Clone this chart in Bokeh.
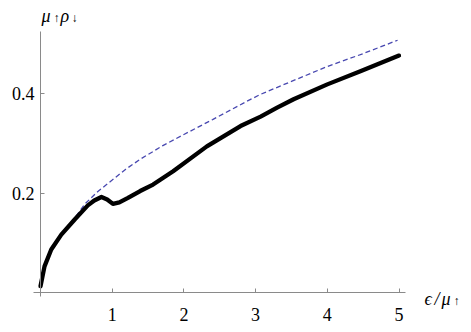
from bokeh.plotting import figure
from bokeh.models import LinearAxis, FixedTicker, Range1d, Label
from bokeh.embed import file_html
from bokeh.resources import INLINE

# Data
x_solid = [0, 0.056, 0.15, 0.29, 0.48, 0.66, 0.75, 0.85, 0.93, 1.01, 1.1, 1.22, 1.39, 1.57,
           1.85, 2.32, 2.79, 3.07, 3.30, 3.53, 4.0, 4.47, 5.0]
y_solid = [0.012, 0.052, 0.086, 0.116, 0.147, 0.175, 0.185, 0.192, 0.187, 0.178, 0.181, 0.190,
           0.204, 0.217, 0.244, 0.294, 0.335, 0.354, 0.372, 0.389, 0.419, 0.446, 0.477]

x_dash = [0, 0.056, 0.15, 0.29, 0.48, 0.62, 0.8, 1.0, 1.18, 1.39, 1.7, 2.0, 2.4, 2.88, 3.07,
          3.5, 4.0, 4.5, 4.98]
y_dash = [0.012, 0.052, 0.086, 0.116, 0.150, 0.178, 0.203, 0.226, 0.247, 0.268, 0.295, 0.318,
          0.348, 0.385, 0.399, 0.425, 0.455, 0.481, 0.508]

x_ticks = [1, 2, 3, 4, 5]
y_ticks = [0.2, 0.4]

p = figure(width=462, height=324, output_backend="svg", toolbar_location=None,
           x_axis_type=None, y_axis_type=None,
           x_range=Range1d(-0.5579, 5.8856), y_range=Range1d(-0.0651, 0.5881),
           min_border_left=0, min_border_right=0, min_border_top=0, min_border_bottom=0)
p.outline_line_color = None
p.xgrid.visible = False
p.ygrid.visible = False
p.background_fill_color = "white"

AX_COL = "#8a8a8a"
FONT = "Liberation Serif"

xa = LinearAxis(fixed_location=0, ticker=FixedTicker(ticks=x_ticks), bounds=(-0.098, 5.09))
xa.axis_line_color = AX_COL
xa.major_tick_line_color = AX_COL
xa.major_tick_in = 4
xa.major_tick_out = 0
xa.minor_tick_line_color = None
xa.major_label_text_font = FONT
xa.major_label_text_font_size = "18px"
xa.major_label_text_color = "black"
xa.major_label_standoff = 16
p.add_layout(xa, "below")

ya = LinearAxis(fixed_location=0, ticker=FixedTicker(ticks=y_ticks), bounds=(-0.008, 0.526))
ya.axis_line_color = AX_COL
ya.major_tick_line_color = AX_COL
ya.major_tick_in = 4
ya.major_tick_out = 0
ya.minor_tick_line_color = None
ya.major_label_text_font = FONT
ya.major_label_text_font_size = "18px"
ya.major_label_text_color = "black"
ya.major_label_standoff = 6
p.add_layout(ya, "left")

p.line(x_dash, y_dash, line_color="#4848b0", line_width=1.3, line_dash="5 3")
p.line(x_solid, y_solid, line_color="black", line_width=4.3, line_join="round", line_cap="round")


def lab(x, y, text, xoff, yoff, size, style="italic"):
    p.add_layout(Label(x=x, y=y, text=text, x_offset=xoff, y_offset=yoff,
                       text_font=FONT, text_font_size=size, text_font_style=style,
                       text_baseline="alphabetic", text_color="black"))


# y-axis label: mu_up rho_down
yl_x = 0.014
yl_y = 0.556
lab(yl_x, yl_y, "μ", 0, 0, "18px")
lab(yl_x, yl_y, "↑", 12, -2, "12px", "normal")
lab(yl_x, yl_y, "ρ", 19, 0, "18px")
lab(yl_x, yl_y, "↓", 30, -2, "12px", "normal")

# x-axis label: epsilon / mu_up
xl_x = 5.356
xl_y = -0.0127
lab(xl_x, xl_y, "ϵ", 0, 0, "18px")
lab(xl_x, xl_y, "/", 10, 0, "18px")
lab(xl_x, xl_y, "μ", 17, 0, "18px")
lab(xl_x, xl_y, "↑", 29, -2, "12px", "normal")

open("out.html", "w").write(file_html(p, INLINE))
